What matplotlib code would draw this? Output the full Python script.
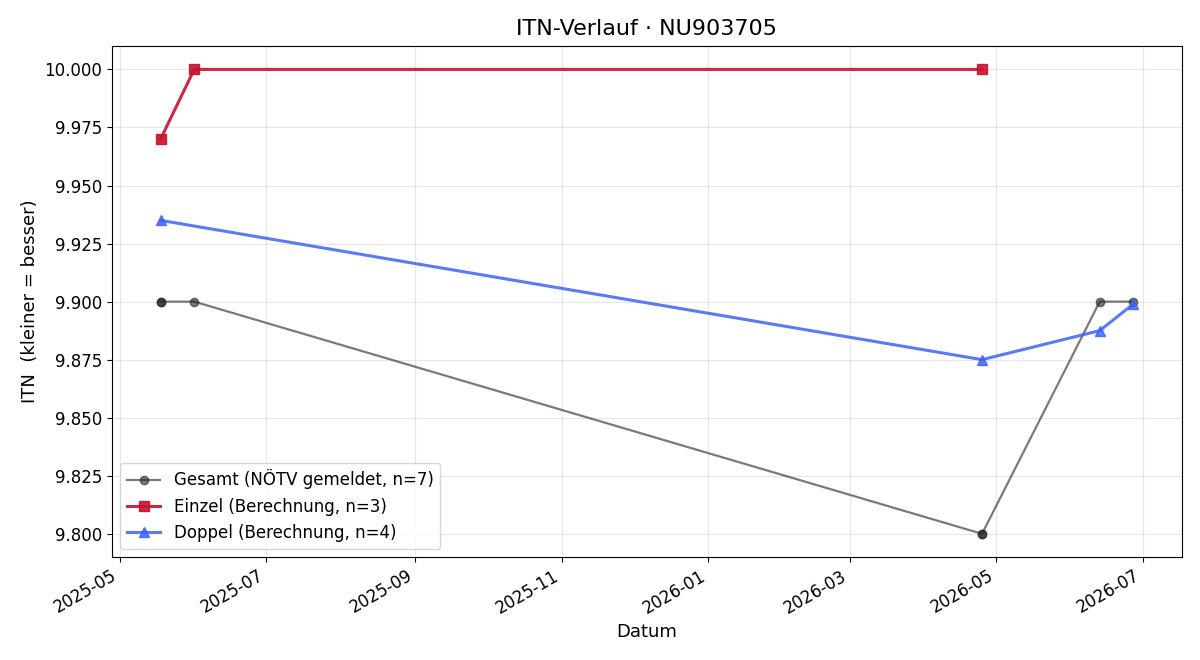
import matplotlib
matplotlib.use("Agg")
import matplotlib.pyplot as plt
import matplotlib.dates as mdates
import pandas as pd

gesamt_dates = ["2025-05-18", "2025-05-18", "2025-06-01", "2026-04-25", "2026-04-25", "2026-06-13", "2026-06-27"]
gesamt_vals = [9.9, 9.9, 9.9, 9.8, 9.8, 9.9, 9.9]

einzel_dates = ["2025-05-18", "2025-06-01", "2026-04-25"]
einzel_vals = [9.97, 10.0, 10.0]

doppel_dates = ["2025-05-18", "2026-04-25", "2026-06-13", "2026-06-27"]
doppel_vals = [9.935, 9.875, 9.8875, 9.899]

fig, ax = plt.subplots(figsize=(12, 6.6), dpi=100)

ax.plot(pd.to_datetime(gesamt_dates), gesamt_vals, color="#222222", alpha=0.6,
        marker="o", markersize=6, linewidth=1.6,
        label=f"Gesamt (NÖTV gemeldet, n={len(gesamt_vals)})")
ax.plot(pd.to_datetime(einzel_dates), einzel_vals, color="#c8102e", alpha=0.9,
        marker="s", markersize=7.5, linewidth=2.2,
        label=f"Einzel (Berechnung, n={len(einzel_vals)})")
ax.plot(pd.to_datetime(doppel_dates), doppel_vals, color="#3d63f5", alpha=0.85,
        marker="^", markersize=7.5, linewidth=2.2,
        label=f"Doppel (Berechnung, n={len(doppel_vals)})")

ax.set_title("ITN-Verlauf · NU903705", fontsize=16, pad=8)
ax.set_xlabel("Datum", fontsize=13)
ax.set_ylabel("ITN  (kleiner = besser)", fontsize=13)
ax.tick_params(labelsize=12)
ax.grid(True, alpha=0.3)
ax.yaxis.set_major_formatter(matplotlib.ticker.FormatStrFormatter("%.3f"))
ax.xaxis.set_major_locator(mdates.MonthLocator(bymonth=[1, 3, 5, 7, 9, 11]))
ax.xaxis.set_major_formatter(mdates.DateFormatter("%Y-%m"))
ax.legend(loc="lower left", fontsize=12)
fig.autofmt_xdate()
fig.subplots_adjust(left=0.0933, right=0.985, top=0.930, bottom=0.156)
fig.savefig("out.png", dpi=100)
